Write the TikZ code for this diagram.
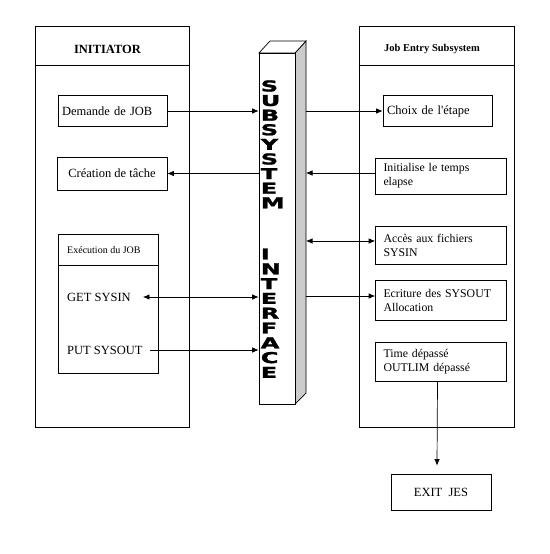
\documentclass[tikz,border=0pt]{standalone}
\usepackage{fontspec}
\setmainfont{Liberation Serif}
\newfontfamily\blockfont{DejaVu Sans}[BoldFeatures={FakeBold=1.5}]
\usetikzlibrary{arrows.meta}

\tikzset{
  frame/.style={draw,line width=0.7pt},
  box/.style={draw,line width=0.7pt,inner xsep=4pt,inner ysep=0pt,font=\fontsize{12.5}{15}\selectfont},
  leftbox/.style={box,align=left,text width=101pt},
  twoline/.style={draw,line width=0.7pt,inner xsep=8pt,inner ysep=0pt,align=left,text width=115pt,minimum width=131pt,font=\fontsize{11.8}{14}\selectfont},
  plain/.style={anchor=west,inner sep=3pt,font=\fontsize{12.5}{15}\selectfont},
  letter/.style={anchor=west,inner sep=0pt,xscale=1.6,font=\blockfont\bfseries\fontsize{15}{15}\selectfont},
  arr/.style={line width=0.7pt,-{Latex[length=6.5pt,width=5.5pt]}},
  darr/.style={line width=0.7pt,{Latex[length=6.5pt,width=5.5pt]}-{Latex[length=6.5pt,width=5.5pt]}}
}

\begin{document}
\begin{tikzpicture}[x=1pt,y=-1pt]
\useasboundingbox (0,0) rectangle (549,554);

% initiator side
\node[frame,minimum width=154pt,minimum height=401pt] (initiator) at (112,226.5) {};
\draw[line width=0.7pt] (initiator.west |- 0,65) -- (initiator.east |- 0,65);
\node[font=\bfseries\fontsize{12.5}{15}\selectfont] (inittitle) at (107.5,49) {INITIATOR};
\node[leftbox,minimum height=31pt] (demande) at (112.5,111) {Demande de JOB};
\node[box,minimum width=110pt,minimum height=33pt] (creation) at (112,173.5) {Création de tâche};
\node[frame,minimum width=100pt,minimum height=139pt] (execution) at (108,303.5) {};
\draw[line width=0.7pt] (execution.west |- 0,265) -- (execution.east |- 0,265);
\node[anchor=west,inner sep=3pt,font=\fontsize{10}{12}\selectfont] (exectitle) at (64,250) {Exécution du JOB};
\node[plain] (getsysin) at (64,297) {GET SYSIN};
\node[plain] (putsysout) at (64,350) {PUT SYSOUT};

% subsystem interface pillar
\draw[line width=0.7pt,fill=gray!40] (295,53) -- (306,41) -- (306,393) -- (295,404) -- cycle;
\draw[line width=0.7pt,fill=white] (259,53) -- (270,41) -- (306,41) -- (295,53) -- cycle;
\node[draw,line width=0.7pt,fill=white,minimum width=36pt,minimum height=351pt,inner sep=0pt] (ssi) at (277,228.5) {};
\coordinate (ssiback) at (306,228.5);
\foreach \ch [count=\i from 0] in {S,U,B,S,Y,S,T,E,M}
  \node[letter] (sub\i) at (260.5,{86+14.6*\i}) {\ch};
\foreach \ch [count=\i from 0] in {I,N,T,E,R,F,A,C,E}
  \node[letter] (int\i) at (260.5,{254+14.8*\i}) {\ch};

% job entry subsystem side
\node[frame,minimum width=155pt,minimum height=401pt] (jes) at (436.5,226.5) {};
\draw[line width=0.7pt] (jes.west |- 0,65) -- (jes.east |- 0,65);
\node[font=\bfseries\fontsize{10.5}{12}\selectfont] (jestitle) at (432,49) {Job Entry Subsystem};
\node[leftbox,minimum height=31pt] (choix) at (437.5,111) {Choix de l\textquotesingle étape};
\node[twoline,minimum height=36pt] (elapse) at (441,176) {Initialise le temps\\elapse};
\node[twoline,minimum height=38pt] (acces) at (441,245) {Accès aux fichiers\\SYSIN};
\node[twoline,minimum height=40pt] (ecriture) at (441,300) {Ecriture des SYSOUT\\Allocation};
\node[twoline,minimum height=39pt] (timeb) at (441,361.5) {Time dépassé\\OUTLIM dépassé};
\node[box,minimum width=100pt,minimum height=36pt] (exitjes) at (441,492) {EXIT\ \ JES};

% connectors
\coordinate (elin) at ([yshift=3pt]elapse.west);
\coordinate (acin) at ([yshift=4pt]acces.west);
\coordinate (ecin) at ([yshift=4pt]ecriture.west);
\coordinate (exitin) at ([xshift=-4pt,yshift=8pt]exitjes.north);
\draw[arr] (demande.east) -- (ssi.west |- demande.east);
\draw[arr] (ssi.west |- creation.east) -- (creation.east);
\draw[darr] ([xshift=9pt]getsysin.east) -- (ssi.west |- getsysin.east);
\draw[arr] ([xshift=4pt]putsysout.east) -- (ssi.west |- putsysout.east);
\draw[arr] (ssiback |- choix.west) -- (choix.west);
\draw[arr] (elin) -- (ssiback |- elin);
\draw[darr] (ssiback |- acin) -- (acin);
\draw[arr] (ssiback |- ecin) -- (ecin);
\draw[arr] ([xshift=-3.5pt]timeb.south) -- (exitin);
\end{tikzpicture}
\end{document}
